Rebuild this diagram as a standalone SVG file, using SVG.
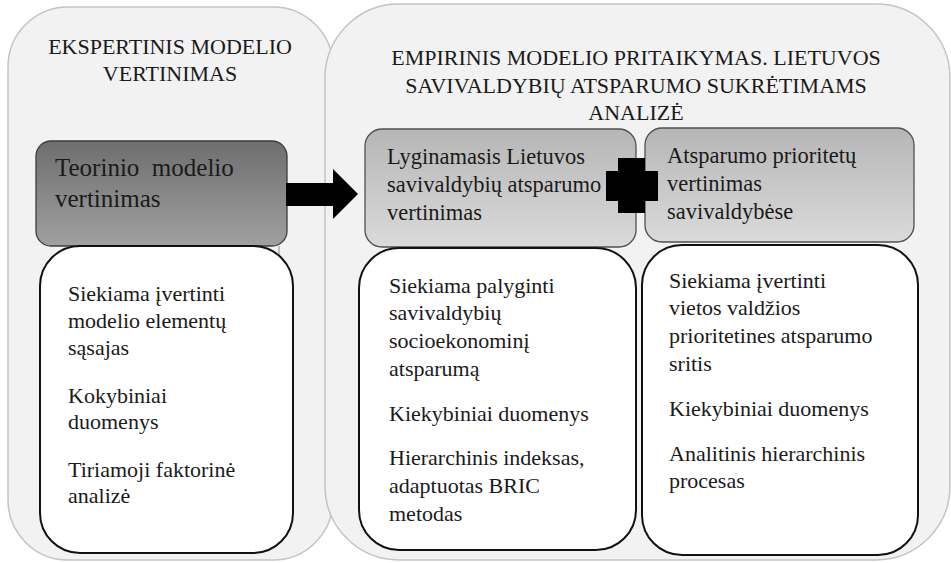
<svg xmlns="http://www.w3.org/2000/svg" width="951" height="563" viewBox="0 0 951 563">
  <defs>
    <linearGradient id="gradDark" x1="0" y1="0" x2="0" y2="1">
      <stop offset="0" stop-color="#6e6e6e"/>
      <stop offset="1" stop-color="#a0a0a0"/>
    </linearGradient>
    <linearGradient id="gradLight" x1="0" y1="0" x2="0" y2="1">
      <stop offset="0" stop-color="#b6b6b6"/>
      <stop offset="1" stop-color="#dadada"/>
    </linearGradient>
  </defs>

  <!-- left column: expert evaluation -->
  <g id="panel-expert">
    <rect x="8" y="7" width="325" height="553" rx="60" ry="60" fill="#f2f2f2" stroke="#c4c4c4" stroke-width="1.5"/>
    <text x="170" y="54" font-family="Liberation Serif" font-size="22" fill="#1a1a1a" text-anchor="middle">EKSPERTINIS MODELIO</text>
    <text x="170" y="81" font-family="Liberation Serif" font-size="22" fill="#1a1a1a" text-anchor="middle">VERTINIMAS</text>
  </g>

  <!-- right column: empirical application -->
  <g id="panel-empirical">
    <rect x="325" y="4" width="625" height="556" rx="74" ry="74" fill="#f2f2f2" stroke="#c4c4c4" stroke-width="1.5"/>
    <text x="636" y="65" font-family="Liberation Serif" font-size="22" fill="#1a1a1a" text-anchor="middle">EMPIRINIS MODELIO PRITAIKYMAS. LIETUVOS</text>
    <text x="636" y="93" font-family="Liberation Serif" font-size="22" fill="#1a1a1a" text-anchor="middle">SAVIVALDYBIŲ ATSPARUMO SUKRĖTIMAMS</text>
    <text x="636" y="120" font-family="Liberation Serif" font-size="22" fill="#1a1a1a" text-anchor="middle">ANALIZĖ</text>
  </g>

  <g id="stage-theory">
    <rect x="36" y="141" width="251" height="105" rx="15" ry="15" fill="url(#gradDark)" stroke="#3c3c3c" stroke-width="1.3"/>
    <text x="55" y="176" font-family="Liberation Serif" font-size="25" fill="#1a1a1a" xml:space="preserve">Teorinio  modelio</text>
    <text x="55" y="207" font-family="Liberation Serif" font-size="25" fill="#1a1a1a">vertinimas</text>
    <line x1="279" y1="246" x2="279" y2="260" stroke="#8a8a8a" stroke-width="1"/>
  </g>

  <g id="stage-comparative">
    <rect x="365" y="129" width="271" height="118" rx="17" ry="17" fill="url(#gradLight)" stroke="#505050" stroke-width="1.3"/>
    <text x="387" y="164" font-family="Liberation Serif" font-size="22.5" fill="#1a1a1a">Lyginamasis Lietuvos</text>
    <text x="387" y="192" font-family="Liberation Serif" font-size="22.5" fill="#1a1a1a">savivaldybių atsparumo</text>
    <text x="387" y="220" font-family="Liberation Serif" font-size="22.5" fill="#1a1a1a">vertinimas</text>
  </g>

  <g id="stage-priorities">
    <rect x="645" y="128" width="269" height="114" rx="17" ry="17" fill="url(#gradLight)" stroke="#505050" stroke-width="1.3"/>
    <text x="667" y="163" font-family="Liberation Serif" font-size="22.5" fill="#1a1a1a">Atsparumo prioritetų</text>
    <text x="667" y="191" font-family="Liberation Serif" font-size="22.5" fill="#1a1a1a">vertinimas</text>
    <text x="667" y="219" font-family="Liberation Serif" font-size="22.5" fill="#1a1a1a">savivaldybėse</text>
  </g>

  <g id="detail-theory">
    <rect x="40" y="246" width="253" height="307" rx="40" ry="40" fill="#ffffff" stroke="#111111" stroke-width="2"/>
    <text x="68" y="301" font-family="Liberation Serif" font-size="22" fill="#1a1a1a">Siekiama įvertinti</text>
    <text x="68" y="328" font-family="Liberation Serif" font-size="22" fill="#1a1a1a">modelio elementų</text>
    <text x="68" y="355" font-family="Liberation Serif" font-size="22" fill="#1a1a1a">sąsajas</text>
    <text x="68" y="403" font-family="Liberation Serif" font-size="22" fill="#1a1a1a">Kokybiniai</text>
    <text x="68" y="429" font-family="Liberation Serif" font-size="22" fill="#1a1a1a">duomenys</text>
    <text x="68" y="477" font-family="Liberation Serif" font-size="22" fill="#1a1a1a">Tiriamoji faktorinė</text>
    <text x="68" y="503" font-family="Liberation Serif" font-size="22" fill="#1a1a1a">analizė</text>
  </g>

  <g id="detail-comparative">
    <rect x="359" y="248" width="277" height="302" rx="40" ry="40" fill="#ffffff" stroke="#111111" stroke-width="2"/>
    <text x="389" y="293" font-family="Liberation Serif" font-size="22" fill="#1a1a1a">Siekiama palyginti</text>
    <text x="389" y="320" font-family="Liberation Serif" font-size="22" fill="#1a1a1a">savivaldybių</text>
    <text x="389" y="348" font-family="Liberation Serif" font-size="22" fill="#1a1a1a">socioekonominį</text>
    <text x="389" y="376" font-family="Liberation Serif" font-size="22" fill="#1a1a1a">atsparumą</text>
    <text x="389" y="421" font-family="Liberation Serif" font-size="22" fill="#1a1a1a">Kiekybiniai duomenys</text>
    <text x="389" y="465" font-family="Liberation Serif" font-size="22" fill="#1a1a1a">Hierarchinis indeksas,</text>
    <text x="389" y="493" font-family="Liberation Serif" font-size="22" fill="#1a1a1a">adaptuotas BRIC</text>
    <text x="389" y="521" font-family="Liberation Serif" font-size="22" fill="#1a1a1a">metodas</text>
  </g>

  <g id="detail-priorities">
    <rect x="642" y="245" width="276" height="310" rx="40" ry="40" fill="#ffffff" stroke="#111111" stroke-width="2"/>
    <text x="669" y="288" font-family="Liberation Serif" font-size="22" fill="#1a1a1a">Siekiama įvertinti</text>
    <text x="669" y="315" font-family="Liberation Serif" font-size="22" fill="#1a1a1a">vietos valdžios</text>
    <text x="669" y="343" font-family="Liberation Serif" font-size="22" fill="#1a1a1a">prioritetines atsparumo</text>
    <text x="669" y="371" font-family="Liberation Serif" font-size="22" fill="#1a1a1a">sritis</text>
    <text x="669" y="416" font-family="Liberation Serif" font-size="22" fill="#1a1a1a">Kiekybiniai duomenys</text>
    <text x="669" y="461" font-family="Liberation Serif" font-size="22" fill="#1a1a1a">Analitinis hierarchinis</text>
    <text x="669" y="488" font-family="Liberation Serif" font-size="22" fill="#1a1a1a">procesas</text>
  </g>

  <!-- connectors: block arrow between columns and plus joining the two analyses -->
  <g id="connectors" fill="#000000">
    <polygon points="286,183 333,183 333,169 358,194 333,219 333,206 286,206"/>
    <polygon points="618,158 645,158 645,171 658,171 658,201 645,201 645,213 618,213 618,201 606,201 606,171 618,171"/>
  </g>
</svg>
